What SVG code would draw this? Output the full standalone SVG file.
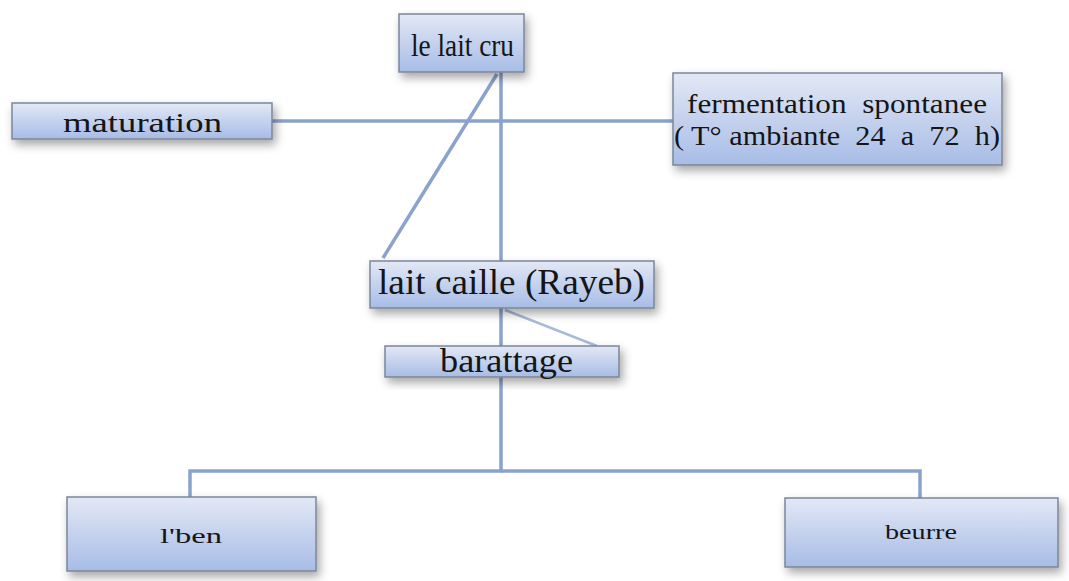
<svg xmlns="http://www.w3.org/2000/svg" width="1069" height="581" viewBox="0 0 1069 581">
<defs>
<linearGradient id="g" x1="0" y1="0" x2="0" y2="1">
<stop offset="0" stop-color="#e3e8f5"/>
<stop offset="1" stop-color="#a7bce6"/>
</linearGradient>
<filter id="sh" x="-20%" y="-30%" width="140%" height="170%">
<feDropShadow dx="3" dy="5" stdDeviation="5" flood-color="#000" flood-opacity="0.35"/>
</filter>
</defs>
<style>
.box{fill:url(#g);stroke:#7a8699;stroke-width:1.5;filter:url(#sh)}
.t{fill:#151515}
.c{fill:none;stroke:#8ba3cc;stroke-width:3.5}
</style>
<rect width="1069" height="581" fill="#ffffff"/>
<g id="connectors">
<line class="c" x1="272" y1="121" x2="673" y2="121"/>
<line class="c" x1="501" y1="72" x2="501" y2="261"/>
<line class="c" x1="497" y1="74" x2="383" y2="258"/>
<line class="c" x1="501" y1="308" x2="501" y2="346"/>
<line x1="505" y1="310" x2="597" y2="346" stroke="#a9bad8" stroke-width="2.5"/>
<polyline class="c" points="501,377 501,471 190,471 190,497"/>
<polyline class="c" points="501,471 920,471 920,498"/>
</g>
<g id="node-lait-cru">
<rect class="box" x="399" y="14" width="125" height="58"/>
<text class="t" font-family="'Liberation Serif', 'DejaVu Serif', serif" x="411" y="56" font-size="31" textLength="103" lengthAdjust="spacingAndGlyphs">le lait cru</text>
</g>
<g id="node-maturation">
<rect class="box" x="12" y="103" width="260" height="36"/>
<text class="t" font-family="'Liberation Serif', 'DejaVu Serif', serif" x="63" y="132" font-size="28" textLength="159" lengthAdjust="spacingAndGlyphs">maturation</text>
</g>
<g id="node-fermentation">
<rect class="box" x="673" y="73" width="329" height="92"/>
<text class="t" font-family="'Liberation Serif', 'DejaVu Serif', serif" x="687" y="113" font-size="27" textLength="300" lengthAdjust="spacingAndGlyphs" xml:space="preserve">fermentation  spontanee</text>
<text class="t" font-family="'Liberation Serif', 'DejaVu Serif', serif" x="674" y="145" font-size="27" textLength="326" lengthAdjust="spacingAndGlyphs" xml:space="preserve">( T° ambiante  24  a  72  h)</text>
</g>
<g id="node-lait-caille">
<rect class="box" x="370" y="261" width="284" height="47"/>
<text class="t" font-family="'Liberation Serif', 'DejaVu Serif', serif" x="378" y="294" font-size="35" textLength="267" lengthAdjust="spacingAndGlyphs">lait caille (Rayeb)</text>
</g>
<g id="node-barattage">
<rect class="box" x="385" y="346" width="234" height="31"/>
<text class="t" font-family="'Liberation Serif', 'DejaVu Serif', serif" x="440" y="372" font-size="33" textLength="133" lengthAdjust="spacingAndGlyphs">barattage</text>
</g>
<g id="node-lben">
<rect class="box" x="67" y="497" width="249" height="74"/>
<text class="t" font-family="'Liberation Serif', 'DejaVu Serif', serif" x="160" y="543" font-size="21" textLength="62" lengthAdjust="spacingAndGlyphs">l'ben</text>
</g>
<g id="node-beurre">
<rect class="box" x="785" y="498" width="273" height="69"/>
<text class="t" font-family="'Liberation Serif', 'DejaVu Serif', serif" x="885" y="539" font-size="20" textLength="72" lengthAdjust="spacingAndGlyphs">beurre</text>
</g>
</svg>
